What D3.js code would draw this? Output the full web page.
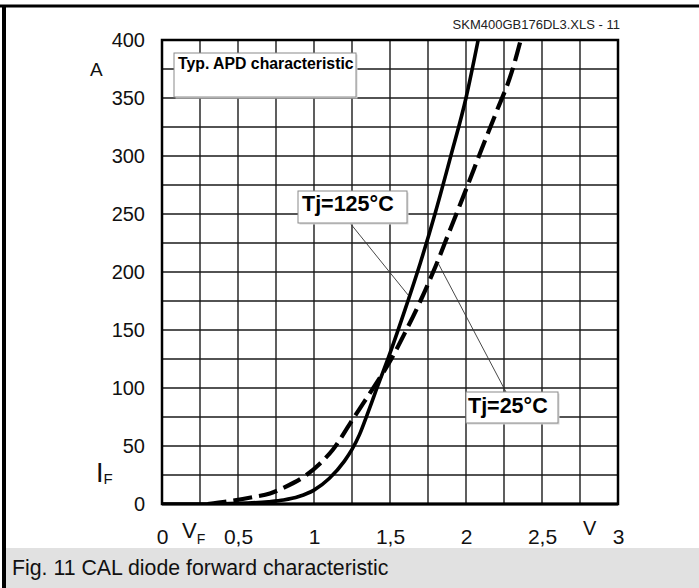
<!DOCTYPE html>
<html>
<head>
<meta charset="utf-8">
<script src="https://cdn.jsdelivr.net/npm/d3@7"></script>
<style>
  body { margin: 0; background: #fff; }
  svg { display: block; font-family: "Liberation Sans", Arial, sans-serif; }
</style>
</head>
<body>
<div id="chart"></div>
<script>
// forward characteristic
var vHot  = [0, 0.3, 0.5, 0.7, 0.8, 0.9, 1.0, 1.1, 1.2, 1.25, 1.3, 1.35, 1.4, 1.5, 1.6, 1.7, 1.8, 1.9, 2.0, 2.08];
var iHot  = [0, 0, 0.5, 2, 3.5, 6.5, 12, 22, 37, 47, 60, 77, 95, 130, 168, 208, 252, 300, 350, 400];
var vCold = [0.3, 0.47, 0.6, 0.71, 0.8, 0.95, 1.04, 1.125, 1.24, 1.3, 1.4, 1.5, 1.6, 1.7, 1.8, 1.9, 2.0, 2.1, 2.2, 2.3, 2.36];
var iCold = [0, 3, 6, 9, 14, 25, 35, 47, 70, 82, 102, 123, 148, 175, 205, 238, 271, 305, 338, 372, 400];

var xTicks = [0, 0.5, 1, 1.5, 2, 2.5, 3];
var yTicks = [0, 50, 100, 150, 200, 250, 300, 350, 400];
var xGrid = d3.range(0, 3.001, 0.25);
var yGrid = d3.range(0, 400.1, 25);

var width = 699, height = 588;
var x = d3.scaleLinear().domain([0, 3]).range([162, 618]);
var y = d3.scaleLinear().domain([0, 400]).range([504, 40]);

var svg = d3.select("#chart").append("svg")
    .attr("width", width)
    .attr("height", height);

// outer frame + caption strip
svg.append("rect").attr("x", 0).attr("y", 0).attr("width", width).attr("height", height).attr("fill", "#fff");
svg.append("rect").attr("x", 6).attr("y", 548).attr("width", width - 6).attr("height", 40).attr("fill", "#e1e1e1");
svg.append("line").attr("x1", 0).attr("x2", width).attr("y1", 6).attr("y2", 6)
    .attr("stroke", "#000").attr("stroke-width", 3);
svg.append("line").attr("x1", 4).attr("x2", 4).attr("y1", 5).attr("y2", height)
    .attr("stroke", "#000").attr("stroke-width", 4);

svg.append("text").attr("x", 12).attr("y", 575)
    .attr("font-size", 21.3).attr("fill", "#111")
    .text("Fig. 11 CAL diode forward characteristic");

svg.append("text").attr("x", 620).attr("y", 29)
    .attr("text-anchor", "end").attr("font-size", 13).attr("fill", "#222")
    .text("SKM400GB176DL3.XLS - 11");

// grid
var grid = svg.append("g");
grid.selectAll(".vg").data(xGrid).enter().append("line")
    .attr("x1", function(d) { return x(d); }).attr("x2", function(d) { return x(d); })
    .attr("y1", y(0)).attr("y2", y(400))
    .attr("stroke", "#1a1a1a").attr("stroke-width", 1.4);
grid.selectAll(".hg").data(yGrid).enter().append("line")
    .attr("x1", x(0)).attr("x2", x(3))
    .attr("y1", function(d) { return y(d); }).attr("y2", function(d) { return y(d); })
    .attr("stroke", "#1a1a1a").attr("stroke-width", 1.4);

svg.append("rect")
    .attr("x", x(0)).attr("y", y(400))
    .attr("width", x(3) - x(0)).attr("height", y(0) - y(400))
    .attr("fill", "none").attr("stroke", "#000").attr("stroke-width", 2.5);
svg.append("line").attr("x1", x(0)).attr("x2", x(3)).attr("y1", y(0)).attr("y2", y(0))
    .attr("stroke", "#000").attr("stroke-width", 3);

// axes labels
var comma = function(d) { return String(d).replace(".", ","); };

var yAxis = svg.append("g")
    .attr("transform", "translate(" + (x(0) - 17) + ",0)")
    .call(d3.axisLeft(y).tickValues(yTicks).tickSize(0).tickPadding(0).tickFormat(comma));
yAxis.select(".domain").remove();
yAxis.selectAll("text").attr("font-size", 20).attr("font-family", "Liberation Sans, Arial, sans-serif").attr("fill", "#111");

var xAxis = svg.append("g")
    .attr("transform", "translate(0," + (y(0) + 25) + ")")
    .call(d3.axisBottom(x).tickValues(xTicks).tickSize(0).tickPadding(0).tickFormat(comma));
xAxis.select(".domain").remove();
xAxis.selectAll("text").attr("font-size", 21).attr("font-family", "Liberation Sans, Arial, sans-serif").attr("fill", "#111");

svg.append("text").attr("x", 90).attr("y", 76).attr("font-size", 19).attr("fill", "#111").text("A");
var iF = svg.append("text").attr("x", 96).attr("y", 482).attr("fill", "#111");
iF.append("tspan").attr("font-size", 27).text("I");
iF.append("tspan").attr("font-size", 15).attr("dy", 2).text("F");
var vF = svg.append("text").attr("x", 182).attr("y", 538).attr("fill", "#111");
vF.append("tspan").attr("font-size", 22).text("V");
vF.append("tspan").attr("font-size", 14).attr("dy", 6).text("F");
svg.append("text").attr("x", 583).attr("y", 535).attr("font-size", 20).attr("fill", "#111").text("V");

// curves
var line = d3.line()
    .x(function(d) { return x(d[0]); })
    .y(function(d) { return y(d[1]); })
    .curve(d3.curveMonotoneX);

var hot = vHot.map(function(v, i) { return [v, iHot[i]]; });
var cold = vCold.map(function(v, i) { return [v, iCold[i]]; });

svg.append("clipPath").attr("id", "plotclip").append("rect")
    .attr("x", x(0)).attr("y", y(400)).attr("width", x(3) - x(0)).attr("height", y(0) - y(400));

svg.append("path").datum(cold)
    .attr("d", line).attr("fill", "none")
    .attr("stroke", "#000").attr("stroke-width", 4.2)
    .attr("stroke-dasharray", "19,7")
    .attr("clip-path", "url(#plotclip)");
svg.append("path").datum(hot)
    .attr("d", line).attr("fill", "none")
    .attr("stroke", "#000").attr("stroke-width", 3.6)
    .attr("clip-path", "url(#plotclip)");

// leader lines
svg.append("line").attr("x1", 350).attr("y1", 223).attr("x2", x(1.62)).attr("y2", y(180))
    .attr("stroke", "#333").attr("stroke-width", 0.9);
svg.append("line").attr("x1", 506).attr("y1", 392).attr("x2", x(1.815)).attr("y2", y(208))
    .attr("stroke", "#333").attr("stroke-width", 0.9);

// label boxes
function labelBox(bx, by, bw, bh, tx, ty, size, txt) {
    svg.append("rect").attr("x", bx + 1.5).attr("y", by + 1.5).attr("width", bw).attr("height", bh)
        .attr("fill", "#d8d8d8");
    svg.append("rect").attr("x", bx).attr("y", by).attr("width", bw).attr("height", bh)
        .attr("fill", "#fff").attr("stroke", "#8a8a8a").attr("stroke-width", 1);
    svg.append("text").attr("x", tx).attr("y", ty)
        .attr("font-size", size).attr("font-weight", "bold").attr("fill", "#000")
        .text(txt);
}
labelBox(174, 53, 182, 44, 178, 69, 15.8, "Typ. APD characteristic");
labelBox(298, 191, 109, 32, 302, 211, 21.5, "Tj=125\u00b0C");
labelBox(466, 392, 92, 31, 468, 413, 21.5, "Tj=25\u00b0C");
</script>
</body>
</html>
